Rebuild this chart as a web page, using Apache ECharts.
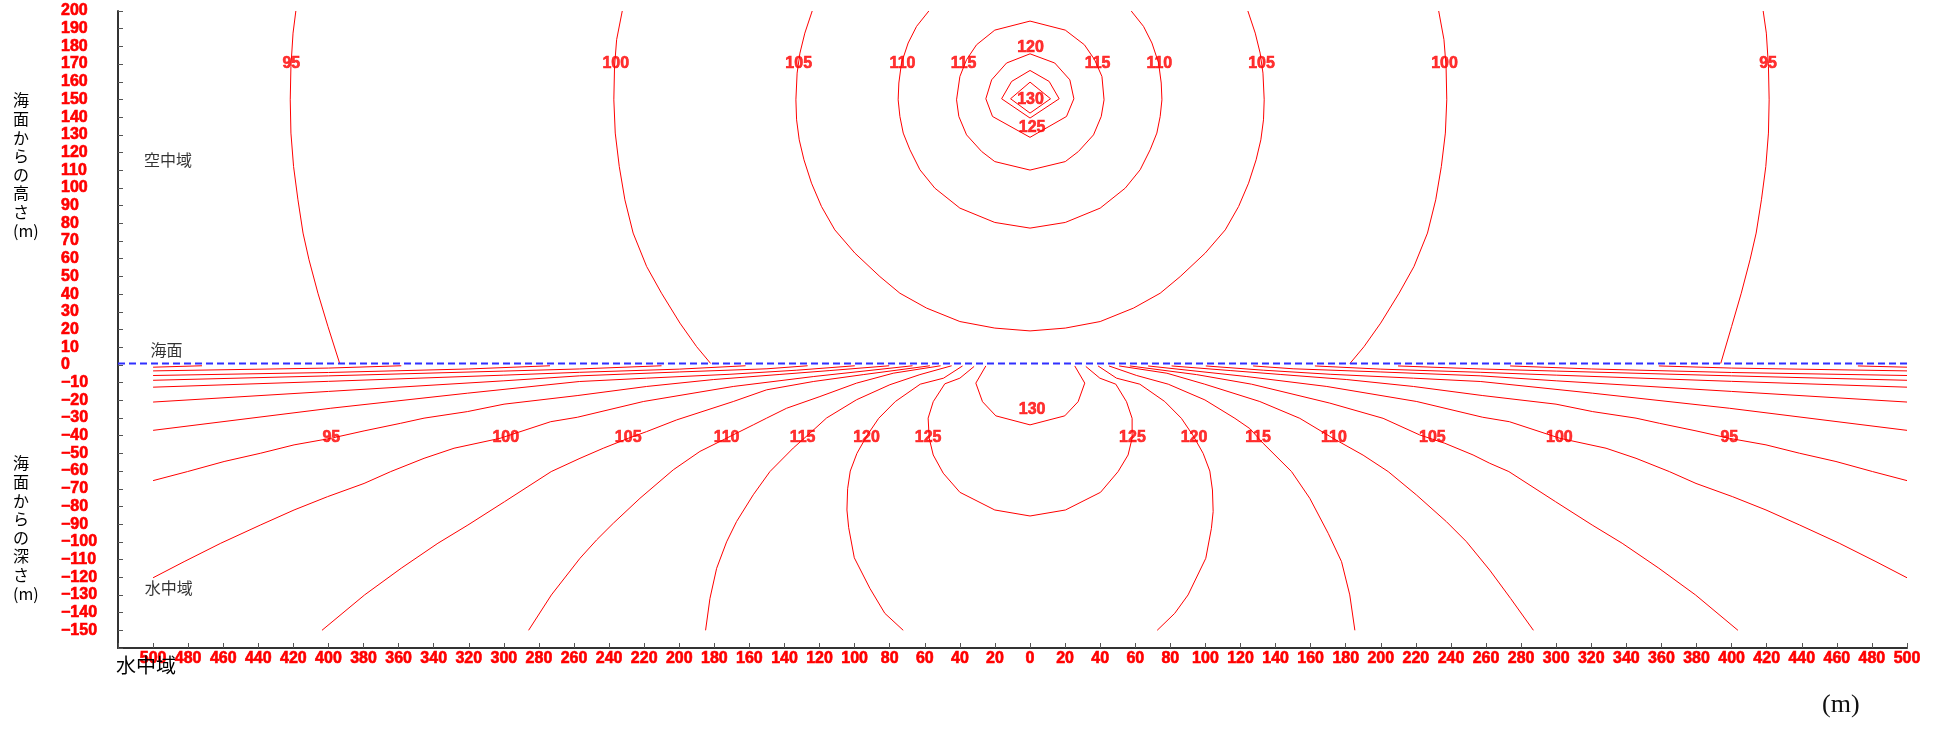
<!DOCTYPE html>
<html>
<head>
<meta charset="utf-8">
<script src="https://cdn.jsdelivr.net/npm/echarts@6.0.0/dist/echarts.min.js"></script>
<style>
  html, body { margin: 0; padding: 0; background: #fff; }
  #chart { width: 1944px; height: 731px; }
</style>
</head>
<body>
<div id="chart"></div>
<script>
// 空中域の等値線 (x: 水平距離 m, y: 高さ m)
var air95L = [[-418.6,200],[-420.2,187.5],[-421.4,168.7],[-421.8,149.8],[-421.4,131],[-419.9,112.1],[-417.4,93.3],[-414.5,74.5],[-411.1,59.4],[-406,40.5],[-400.3,21.7],[-393.6,0.8]];
var air95R = [[418,200],[419.8,187.5],[421,168.7],[421.4,149.8],[421,131],[419.5,112.1],[417,93.3],[414,74.5],[410.5,59.4],[405.5,40.5],[400,21.7],[393.8,0.8]];
var air100L = [[-232.5,200],[-235.7,183.8],[-236.9,168.7],[-237.3,149.8],[-236.5,131],[-234.2,112.1],[-231,93.3],[-226.3,74.5],[-218.6,55.6],[-210.1,40.5],[-199.6,23.6],[-190.1,10.3],[-182.1,0.8]];
var air100R = [[233,200],[236,183.8],[237.2,168.7],[237.6,149.8],[236.8,131],[234.5,112.1],[231.3,93.3],[226.6,74.5],[218.9,55.6],[210.4,40.5],[199.9,23.6],[190.4,10.3],[182.4,0.8]];
var air105 = [[-124.2,200],[-128.4,187.5],[-131.2,176.2],[-132.8,164.9],[-133.5,149.8],[-133.1,138.5],[-131.6,127.2],[-128.9,115.9],[-124.6,102.7],[-118.9,89.5],[-111.3,76.3],[-99.9,63.2],[-85.6,49.9],[-74.2,40.5],[-59,32.1],[-40,24.5],[-20.1,20.8],[0,19.2],
              [20.1,20.8],[40,24.5],[59,32.1],[74.2,40.5],[85.6,49.9],[99.9,63.2],[111.3,76.3],[118.9,89.5],[124.6,102.7],[128.9,115.9],[131.6,127.2],[133.1,138.5],[133.5,149.8],[132.8,164.9],[131.2,176.2],[128.4,187.5],[124.2,200]];
var air110 = [[-57.7,200],[-64.7,191.3],[-69.5,181.9],[-73.3,170.6],[-74.8,159.3],[-75.2,149.8],[-74.2,140.4],[-72.3,131],[-68.5,121.6],[-62.8,110.3],[-54.3,99.9],[-40,88.6],[-20.1,80.5],[0,77.3],
              [20.1,80.5],[40,88.6],[54.3,99.9],[62.8,110.3],[68.5,121.6],[72.3,131],[74.2,140.4],[75.2,149.8],[74.8,159.3],[73.3,170.6],[69.5,181.9],[64.7,191.3],[57.7,200]];
var air115 = [[0,194.3],[-20.1,189.2],[-30.5,180.9],[-36.2,172.5],[-40,163],[-41.9,149.8],[-40.6,140.4],[-36.2,130],[-27.6,120.6],[-20.1,114.9],[0,110.1],
              [20.1,114.9],[27.6,120.6],[36.2,130],[40.6,140.4],[42.2,149.8],[41,163],[36.8,172.5],[31,180.9],[20.1,189.2],[0,194.3]];
var air120 = [[0,175.8],[-13.4,170.6],[-21.9,161.1],[-25.2,150.4],[-21.4,140.4],[0,128.6],[20.8,140.4],[25,150.4],[22.7,161.1],[14.1,170.6],[0,175.8]];
var air125 = [[0,166.4],[-10.5,160.2],[-16.2,150.4],[0,139.5],[16.6,150.4],[10.9,160.2],[0,166.4]];
var air130 = [[0,159.8],[-11.1,150.4],[0,142.3],[11.7,150.4],[0,159.8]];

// 水中域の等値線 (y: 深さ m, 負の値)
var sea130 = [[-25.2,-0.6],[-30.9,-10.3],[-27.1,-20.8],[-19.5,-28.8],[0,-33.9],[19.8,-28.8],[27.4,-20.8],[31.2,-10.3],[25.5,-0.6]];
var sea125 = [[-31.9,-0.9],[-40,-7.5],[-48.6,-10.7],[-55.2,-20.8],[-58.1,-30.1],[-57.5,-41.4],[-55.2,-50.9],[-49.5,-61.2],[-40,-72],[-20.1,-82],[0,-85.4],
              [20.2,-82],[40.2,-72],[50.2,-60.3],[55.9,-50.9],[58.2,-41.4],[58.2,-30.2],[55,-20.8],[48.9,-10.9],[39.8,-7.5],[31.8,-0.9]];
var sea120L = [[-38.5,-0.6],[-49.3,-7.5],[-62.6,-10.9],[-76.8,-20.7],[-86.3,-30.2],[-93,-40],[-98.7,-50],[-102.5,-60],[-104,-70],[-104.4,-82],[-103.4,-92],[-100.2,-109],[-91.3,-126.3],[-82.8,-140.4],[-72.3,-150]];
var sea120R = [[38.8,-0.6],[49.3,-7.5],[62.6,-10.9],[76.8,-20.7],[86.3,-30.2],[93,-40],[98.7,-50],[102.5,-60],[104,-70.7],[104.4,-82.9],[103.4,-92.4],[100.2,-109.3],[90.1,-130],[82.5,-140.4],[72.5,-150]];
var sea115L = [[-44.7,-0.5],[-62.8,-5.5],[-79.9,-11.2],[-98.9,-19.7],[-116,-30],[-125.5,-38.6],[-135,-47],[-148.3,-60.3],[-157.8,-73.4],[-167.3,-88.5],[-173,-100],[-178.7,-115],[-182.5,-132],[-185,-150]];
var sea115R = [[45,-0.6],[60.8,-6],[78.8,-10.9],[99.7,-19.8],[116.8,-30.2],[125.3,-36],[132.9,-44.3],[149.1,-60.3],[159.5,-75.4],[170,-95.2],[177.6,-111.2],[182.3,-130],[185.2,-150]];
var sea110L = [[-51,-0.5],[-78,-4.7],[-98.9,-10.3],[-119.8,-17.9],[-138.8,-24.5],[-150.2,-30.1],[-157.8,-33.9],[-173,-41.4],[-188.2,-48.9],[-203.4,-59.3],[-222.4,-75.4],[-237.6,-89.5],[-247.1,-98.9],[-256.6,-109.3],[-272.9,-130],[-285.9,-150]];
var sea110R = [[50.8,-0.6],[78,-4.7],[99.6,-10.9],[131,-20.7],[153.8,-30.2],[172.8,-41.5],[189.9,-51],[204.2,-60.3],[220.3,-73.5],[237.4,-88.6],[248.8,-99.9],[262.1,-116],[274,-132],[287,-150]];
var sea105L = [[-57.1,-0.5],[-95.1,-5.5],[-123.6,-9.4],[-150.2,-14.1],[-169.2,-20.7],[-201.5,-31.1],[-218.6,-37.7],[-229.1,-41.5],[-243.3,-47.1],[-256.6,-52.8],[-273,-60.3],[-299.6,-77.3],[-320.5,-90.5],[-337.6,-100.8],[-358.5,-114.9],[-379.4,-130],[-403.7,-150]];
var sea105R = [[56.9,-0.6],[95,-5.5],[126.3,-10.9],[170.9,-21.6],[201.3,-30.2],[222.2,-39.6],[236.5,-44.3],[252.6,-50.9],[262.1,-55.6],[273,-60.3],[299.6,-77.3],[320.5,-90.5],[337.6,-100.8],[358.5,-114.9],[379.4,-130],[403.6,-150]];
var sea100L = [[-67,-0.5],[-123.6,-6.6],[-169.2,-12.2],[-220.5,-20.7],[-258.1,-29.6],[-273.3,-32.1],[-302.2,-41.5],[-328.4,-47.1],[-345.5,-52.8],[-364.5,-60.3],[-379.7,-67],[-400.6,-74.5],[-419.6,-82],[-438.6,-90.4],[-461.4,-100.8],[-482.3,-111.2],[-500,-120.3]];
var sea100R = [[67.3,-0.6],[123.6,-6.6],[169.2,-12.2],[220.5,-20.7],[258.1,-29.6],[273.3,-32.1],[302.2,-41.5],[328.4,-47.1],[345.5,-52.8],[364.5,-60.3],[379.7,-67],[400.6,-74.5],[419.6,-82],[438.6,-90.4],[461.4,-100.8],[482.3,-111.2],[500,-120.3]];
var sea95L = [[-80.3,-0.5],[-114.1,-3.2],[-142.6,-5.4],[-180.6,-8.3],[-218.6,-12.2],[-257.8,-17.3],[-299.9,-22.2],[-320.8,-26.4],[-345.5,-30.1],[-358.8,-33],[-379.7,-37.3],[-398.7,-41.5],[-419.6,-45.2],[-438.6,-49.9],[-459.5,-54.6],[-480.4,-60.3],[-500,-65.4]];
var sea95R = [[80.7,-0.6],[114.1,-3.2],[142.6,-5.4],[180.6,-8.3],[218.6,-12.2],[257.8,-17.3],[299.9,-22.2],[320.8,-26.4],[345.5,-30.1],[358.8,-33],[379.7,-37.3],[398.7,-41.5],[419.6,-45.2],[438.6,-49.9],[459.5,-54.6],[480.4,-60.3],[500,-65.4]];
var sea90L = [[-99.9,-0.5],[-133,-3],[-171.1,-5.3],[-218.6,-7.5],[-257,-9.4],[-320.8,-16],[-398.7,-24.5],[-500,-37]];
var sea90R = [[100.2,-0.6],[133,-3],[171.1,-5.3],[218.6,-7.5],[257,-9.4],[320.8,-16],[398.7,-24.5],[500,-37]];
var sea85L = [[-126.8,-0.5],[-150,-2.2],[-200,-4],[-257,-6.2],[-300,-9],[-400,-15],[-500,-21]];
var sea85R = [[127.2,-0.6],[150,-2.2],[200,-4],[257,-6.2],[300,-9],[400,-15],[500,-21]];
var sea80L = [[-162.2,-0.5],[-200,-2.4],[-257,-4.2],[-300,-5.8],[-400,-9.3],[-500,-12.6]];
var sea80R = [[162.4,-0.6],[200,-2.4],[257,-4.2],[300,-5.8],[400,-9.3],[500,-12.6]];
var sea75L = [[-210.1,-0.5],[-257,-2.3],[-300,-3.5],[-400,-6.2],[-500,-8.7]];
var sea75R = [[209.8,-0.6],[257,-2.3],[300,-3.5],[400,-6.2],[500,-8.7]];
var sea70L = [[-273.7,-0.5],[-320,-2.3],[-400,-4.3],[-500,-6]];
var sea70R = [[273.7,-0.6],[320,-2.3],[400,-4.3],[500,-6]];
var sea65L = [[-358.5,-0.5],[-400,-1.8],[-500,-3.4]];
var sea65R = [[358.5,-0.6],[400,-1.8],[500,-3.4]];
var sea60L = [[-472.1,-0.5],[-500,-1.3]];
var sea60R = [[472,-0.6],[500,-1.3]];

// 海面 (破線)
var seaSurface = [[-520,0.8],[500,0.8]];

// 等値線ラベル [x, y, 値]
var airLabels = [[-421.2,170,'95'],[-236.2,170,'100'],[-131.9,170,'105'],[-72.7,170,'110'],[-37.9,170,'115'],
                 [38.5,170,'115'],[73.7,170,'110'],[132,170,'105'],[236.3,170,'100'],[420.8,170,'95'],
                 [0.3,179.4,'120'],[0.3,150.1,'130'],[1.2,134.2,'125']];
var seaLabels = [[-398.4,-41,'95'],[-298.9,-41,'100'],[-229.1,-41,'105'],[-173,-41,'110'],[-129.7,-41,'115'],[-93.2,-41,'120'],[-58.1,-41,'125'],
                 [1.2,-25.4,'130'],
                 [58.4,-41,'125'],[93.5,-41,'120'],[130,-41,'115'],[173.3,-41,'110'],[229.4,-41,'105'],[301.8,-41,'100'],[398.7,-41,'95']];
// 領域名 [x, y, 文字]
var areaLabels = [[-505.2,115.9,'空中域'],[-501.4,8.5,'海面'],[-504.8,-126.3,'水中域']];

var contourLines = [air95L, air95R, air100L, air100R, air105, air110, air115, air120, air125, air130,
                    sea130, sea125, sea120L, sea120R, sea115L, sea115R, sea110L, sea110R, sea105L, sea105R,
                    sea100L, sea100R, sea95L, sea95R, sea90L, sea90R, sea85L, sea85R, sea80L, sea80R,
                    sea75L, sea75R, sea70L, sea70R, sea65L, sea65R, sea60L, sea60R];

var chart = echarts.init(document.getElementById('chart'));

var numFont = 'Liberation Sans, Arial, sans-serif';
var jpFont = 'Noto Sans CJK JP, sans-serif';

var series = [];
contourLines.forEach(function (line) {
    series.push({
        type: 'line',
        data: line,
        showSymbol: false,
        silent: true,
        z: 2,
        lineStyle: { color: '#ff0000', width: 1 }
    });
});

series.push({
    type: 'line',
    data: seaSurface,
    showSymbol: false,
    silent: true,
    z: 3,
    lineStyle: { color: '#3030ff', width: 2, type: [7, 4] }
});

var labelData = airLabels.concat(seaLabels).map(function (d) {
    return { value: [d[0], d[1]], name: d[2] };
});
series.push({
    type: 'scatter',
    data: labelData,
    symbolSize: 0,
    silent: true,
    z: 5,
    label: {
        show: true,
        position: 'inside',
        formatter: function (p) { return p.name; },
        color: '#ff0000',
        fontWeight: 'bold',
        fontSize: 16,
        fontFamily: numFont,
        textBorderColor: '#ff0000',
        textBorderWidth: 0.6
    }
});

series.push({
    type: 'scatter',
    data: areaLabels.map(function (d) { return { value: [d[0], d[1]], name: d[2] }; }),
    symbolSize: 0,
    silent: true,
    z: 5,
    label: {
        show: true,
        position: 'inside',
        align: 'left',
        formatter: function (p) { return p.name; },
        color: '#000',
        fontSize: 16,
        fontFamily: jpFont
    }
});

var option = {
    animation: false,
    backgroundColor: '#ffffff',
    grid: { left: 118, right: 37, top: 11, bottom: 83, containLabel: false },
    xAxis: {
        type: 'value',
        min: -520,
        max: 500,
        interval: 20,
        axisLine: { onZero: false, lineStyle: { color: '#333', width: 2 } },
        axisTick: { inside: true, length: 5, lineStyle: { color: '#555' } },
        axisLabel: {
            color: '#ff0000',
            fontWeight: 'bold',
            fontSize: 16,
            fontFamily: numFont,
            margin: 3,
            textBorderColor: '#ff0000',
            textBorderWidth: 0.6,
            formatter: function (v) { return v <= -520 ? '' : String(Math.abs(v)); }
        },
        splitLine: { show: false }
    },
    yAxis: {
        type: 'value',
        min: -160,
        max: 200,
        interval: 10,
        axisLine: { onZero: false, lineStyle: { color: '#333', width: 2 } },
        axisTick: { inside: true, length: 5, lineStyle: { color: '#555' } },
        axisLabel: {
            color: '#ff0000',
            fontWeight: 'bold',
            fontSize: 16,
            fontFamily: numFont,
            align: 'left',
            margin: 57,
            textBorderColor: '#ff0000',
            textBorderWidth: 0.6,
            formatter: function (v) {
                if (v <= -160) return '';
                return v < 0 ? '\u2212' + Math.abs(v) : String(v);
            }
        },
        splitLine: { show: false }
    },
    graphic: [
        {
            type: 'text', left: 13, top: 91, z: 10,
            style: { text: '海\n面\nか\nら\nの\n高\nさ\n(m)', fill: '#000', font: '16px ' + jpFont, lineHeight: 18.6, align: 'center' }
        },
        {
            type: 'text', left: 13, top: 454, z: 10,
            style: { text: '海\n面\nか\nら\nの\n深\nさ\n(m)', fill: '#000', font: '16px ' + jpFont, lineHeight: 18.6, align: 'center' }
        },
        {
            type: 'text', left: 116, top: 655, z: 10,
            style: { text: '水中域', fill: '#000', font: '20px ' + jpFont }
        },
        {
            type: 'text', left: 1822, top: 692, z: 10,
            style: { text: '(m)', fill: '#111', font: '26px Liberation Serif, serif' }
        }
    ],
    series: series
};

chart.setOption(option);
</script>
</body>
</html>
